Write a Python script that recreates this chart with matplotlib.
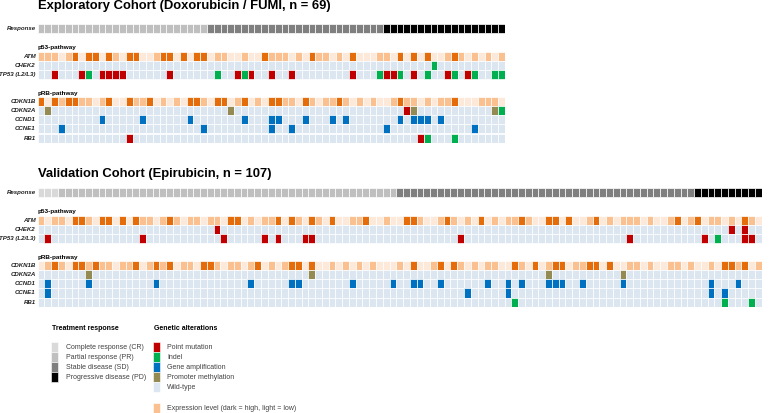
import matplotlib.pyplot as plt

plt.rcParams['font.family'] = ['Liberation Sans', 'DejaVu Sans']

# ---------------- Data ----------------
# response groups (patients sorted by response), counts per group
exp_response = {"CR": 0, "PR": 25, "SD": 26, "PD": 18}
val_response = {"CR": 3, "PR": 50, "SD": 44, "PD": 10}

# expression level per patient: 1 = low, 2 = medium, 3 = high
exp_atm = ("2221231331" "3213311233" "1313312211" "2113222121"
           "3221213111" "2213131311" "232121212")
exp_cdkn1b = ("3132332212" "3113223121" "2133213312" "3121332213"
              "2122321212" "1123221212" "231112221")
val_atm = ("2122133213" "3131322123" "2122122133" "1212231321"
           "3213112231" "1211332112" "3212131212" "2321133131"
           "1231212221" "2112312312" "2121321")
val_cdkn1b = ("1232133232" "2122312323" "1221332122" "1231212331"
              "3112121212" "1112131123" "1321212211" "3213123312"
              "2331311221" "2112212112" "1332312")

# alterations: P = point mutation, I = indel, A = amplification, M = methylation
exp_alts = {
    "CHEK2": {"I": [58]},
    "TP53": {"P": [2, 6, 9, 10, 11, 12, 19, 29, 31, 34, 37, 46, 51, 52, 55, 60, 63],
             "I": [7, 26, 30, 50, 53, 57, 61, 64, 67, 68]},
    "CDKN2A": {"M": [1, 28, 55, 67], "P": [54], "I": [68]},
    "CCND1": {"A": [9, 15, 22, 30, 34, 35, 39, 43, 45, 53, 55, 56, 57, 59]},
    "CCNE1": {"A": [3, 24, 34, 37, 51, 64]},
    "RB1": {"P": [13, 56], "I": [57, 61]},
}
val_alts = {
    "CHEK2": {"P": [26, 102, 104]},
    "TP53": {"P": [1, 15, 27, 33, 35, 39, 40, 62, 87, 98, 104, 105], "I": [100]},
    "CDKN2A": {"M": [7, 40, 75, 86]},
    "CCND1": {"A": [1, 7, 17, 31, 37, 38, 46, 52, 55, 56, 59, 66, 69, 71,
                    75, 76, 77, 80, 86, 99, 103]},
    "CCNE1": {"A": [1, 63, 69, 99, 101]},
    "RB1": {"I": [70, 101, 105]},
}

resp_labels = ["Complete response (CR)", "Partial response (PR)",
               "Stable disease (SD)", "Progressive disease (PD)"]
alt_labels = ["Point mutation", "Indel", "Gene amplification",
              "Promoter methylation", "Wild-type"]

# ---------------- Styles ----------------
RESP_COL = {"CR": "#D9D9D9", "PR": "#BFBFBF", "SD": "#7F7F7F", "PD": "#000000"}
ALT_COL = {"P": "#C00000", "I": "#00B050", "A": "#0070C0", "M": "#948A54"}
WT = "#DCE6F1"
EXPR_COL = {"1": "#FDE9D9", "2": "#FAC090", "3": "#E46C0A"}

ROWS = {"ATM": 3, "CHEK2": 4, "TP53": 5, "CDKN1B": 8, "CDKN2A": 9,
        "CCND1": 10, "CCNE1": 11, "RB1": 12}
ROW_LABEL = {"TP53": "TP53 (L2/L3)"}
LAB_FS = 4.4

W, H = 769, 413
fig = plt.figure(figsize=(W / 100, H / 100), dpi=100)


def px_axes(left, top, width, height):
    return fig.add_axes([left / W, 1 - (top + height) / H, width / W, height / H])


def draw_cohort(ax, resp_counts, expr, alts):
    resp = [k for k, c in resp_counts.items() for _ in range(c)]
    n = len(resp)
    cols = list(range(n))
    kw = dict(width=1, height=1, align='edge', edgecolor='white', linewidth=0.5)
    ax.bar(cols, bottom=0, color=[RESP_COL[r] for r in resp], **kw)
    for gene, row in ROWS.items():
        if gene in expr:
            colors = [EXPR_COL[c] for c in expr[gene]]
        else:
            colors = [WT] * n
            for kind, idx in alts.get(gene, {}).items():
                for i in idx:
                    colors[i] = ALT_COL[kind]
        ax.bar(cols, bottom=row, color=colors, **kw)
        ax.text(-0.3, row + 0.5, ROW_LABEL.get(gene, gene), ha='right', va='center',
                fontsize=LAB_FS, fontweight='bold', style='italic', color='#222222')
    ax.text(-0.3, 0.5, "Response", ha='right', va='center',
            fontsize=LAB_FS, fontweight='bold', style='italic', color='#222222')
    ax.text(0, 2.6, "p53-pathway", va='center', fontsize=4.6, fontweight='bold')
    ax.text(0, 7.6, "pRB-pathway", va='center', fontsize=4.6, fontweight='bold')
    ax.set_xlim(0, n)
    ax.set_ylim(13, 0)
    ax.axis('off')


ax1 = px_axes(37.7, 24.3, 467.3, 118.3)
draw_cohort(ax1, exp_response, {"ATM": exp_atm, "CDKN1B": exp_cdkn1b}, exp_alts)

ax2 = px_axes(37.7, 188.3, 724.0, 118.3)
draw_cohort(ax2, val_response, {"ATM": val_atm, "CDKN1B": val_cdkn1b}, val_alts)

# titles and legend on a pixel-space overlay
bg = fig.add_axes([0, 0, 1, 1], zorder=-1)
bg.set_xlim(0, W)
bg.set_ylim(H, 0)
bg.axis('off')

bg.text(38.5, 6.5, "Exploratory Cohort (Doxorubicin / FUMI, n = 69)",
        fontsize=9.4, fontweight='bold', va='center')
bg.text(38.5, 174, "Validation Cohort (Epirubicin, n = 107)",
        fontsize=9.4, fontweight='bold', va='center')

bg.text(52, 328, "Treatment response", fontsize=5, fontweight='bold', va='center')
bg.text(154, 328, "Genetic alterations", fontsize=5, fontweight='bold', va='center')

lkw = dict(width=6.7, height=10, align='edge', edgecolor='white', linewidth=0.4)
resp_y = [342.3 + 10 * i for i in range(len(resp_labels))]
bg.bar([51] * 4, bottom=resp_y, color=[RESP_COL[k] for k in ["CR", "PR", "SD", "PD"]], **lkw)
for y, lab in zip(resp_y, resp_labels):
    bg.text(66, y + 5, lab, fontsize=5, va='center', color='#404040')

alt_y = [342.3 + 10 * i for i in range(len(alt_labels))]
bg.bar([153] * 5, bottom=alt_y,
       color=[ALT_COL["P"], ALT_COL["I"], ALT_COL["A"], ALT_COL["M"], WT], **lkw)
for y, lab in zip(alt_y, alt_labels):
    bg.text(167, y + 5, lab, fontsize=5, va='center', color='#404040')

bg.bar([153], bottom=[403], color=[EXPR_COL["2"]], **lkw)
bg.text(167, 408, "Expression level (dark = high, light = low)",
        fontsize=5, va='center', color='#404040')

fig.savefig("out.png", dpi=100)
